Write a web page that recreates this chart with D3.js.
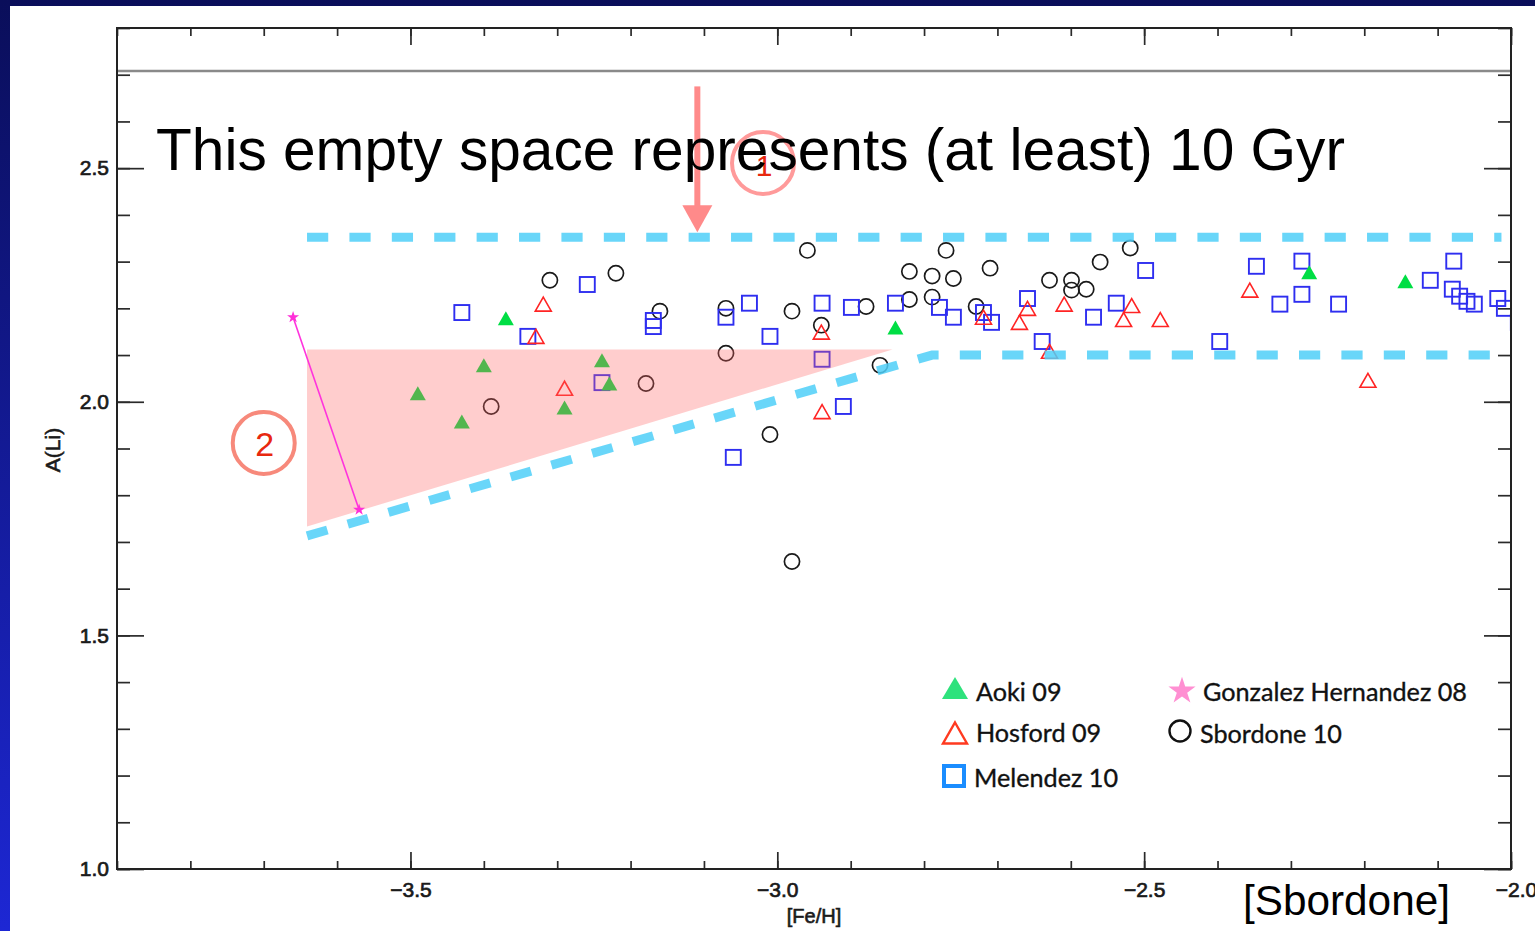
<!DOCTYPE html>
<html><head><meta charset="utf-8">
<script src="https://cdn.jsdelivr.net/npm/d3@7"></script>
<style>html,body{margin:0;padding:0;overflow:hidden;background:#fff}</style>
</head><body>
<svg id="chart" width="1535" height="931"></svg>
<script>
// ---------- data ([Fe/H], A(Li)) ----------
const aoki09 = [[-3.490,2.018],[-3.430,1.958],[-3.400,2.078],[-3.370,2.179],[-3.290,1.988],
  [-3.239,2.089],[-3.229,2.039],[-2.839,2.159],[-2.275,2.277],[-2.144,2.258]];
const hosford09 = [[-3.319,2.209],[-3.329,2.140],[-3.290,2.029],[-2.940,2.149],[-2.939,1.979],
  [-2.719,2.181],[-2.659,2.200],[-2.670,2.170],[-2.609,2.209],[-2.629,2.108],[-2.517,2.206],
  [-2.528,2.176],[-2.478,2.176],[-2.356,2.239],[-2.195,2.046]];
const melendez10 = [[-3.430,2.191],[-3.340,2.140],[-3.259,2.251],[-3.239,2.041],[-3.169,2.174],
  [-3.169,2.161],[-3.070,2.181],[-3.038,2.211],[-3.010,2.140],[-3.060,1.881],[-2.939,2.211],
  [-2.939,2.091],[-2.910,1.990],[-2.899,2.202],[-2.839,2.211],[-2.779,2.202],[-2.760,2.181],
  [-2.719,2.191],[-2.708,2.170],[-2.659,2.221],[-2.639,2.129],[-2.569,2.181],[-2.538,2.211],
  [-2.498,2.281],[-2.397,2.129],[-2.347,2.290],[-2.315,2.209],[-2.285,2.301],[-2.285,2.230],
  [-2.235,2.209],[-2.110,2.260],[-2.078,2.301],[-2.080,2.241],[-2.070,2.226],[-2.060,2.215],
  [-2.050,2.209],[-2.018,2.221],[-2.009,2.200],[-1.990,2.170]];
const sbordone10 = [[-3.390,1.990],[-3.310,2.260],[-3.220,2.275],[-3.160,2.194],[-3.179,2.039],
  [-3.070,2.200],[-3.070,2.104],[-3.010,1.930],[-2.980,2.194],[-2.980,1.658],[-2.959,2.324],
  [-2.940,2.164],[-2.879,2.204],[-2.860,2.078],[-2.820,2.279],[-2.820,2.219],[-2.789,2.269],
  [-2.789,2.224],[-2.770,2.324],[-2.760,2.264],[-2.729,2.204],[-2.710,2.286],[-2.629,2.260],
  [-2.599,2.260],[-2.599,2.239],[-2.579,2.241],[-2.560,2.299],[-2.519,2.329]];
const gonzalez08 = [[-3.660,2.181],[-3.570,1.769]];

// annotation geometry (data units)
const bbnLevel = 2.708;
const upperBand = [[-3.641,2.352],[-2.013,2.352]];
const lowerBand = [[-3.641,1.713],[-2.789,2.100],[-2.018,2.100]];
const depletionWedge = [[-3.641,2.112],[-3.641,1.733],[-2.843,2.112]];
const arrowFrom = [-3.109,2.675], arrowTo = [-3.109,2.363];
const circleOne = [-3.0195,2.511], circleTwo = [-3.700,1.912];

// axes
const xMajor = [-3.5,-3.0,-2.5,-2.0];
const yMajor = [1.0,1.5,2.0,2.5];
const xMinor = d3.range(-39,-19).map(d=>d/10);
const yMinor = d3.range(10,29).map(d=>d/10);

const legendItems = [
  {label:"Aoki 09", kind:"aoki", x:955, y:688, tx:976, ty:701},
  {label:"Hosford 09", kind:"hosford", x:955, y:733, tx:976, ty:742},
  {label:"Melendez 10", kind:"melendez", x:954, y:776, tx:974, ty:787},
  {label:"Gonzalez Hernandez 08", kind:"gonzalez", x:1182, y:691, tx:1203, ty:701},
  {label:"Sbordone 10", kind:"sbordone", x:1180, y:731, tx:1200, ty:743}
];

// ---------- drawing ----------
const svg = d3.select("#chart");
const W = 1535, H = 931;
const L = 117, R = 1511, T = 28, B = 869;
const x = d3.scaleLinear().domain([-3.9,-2.0]).range([L,R]);
const y = d3.scaleLinear().domain([1.0,2.8]).range([B,T]);
const SANS = "'Liberation Sans', Arial, Helvetica, sans-serif";

const defs = svg.append("defs");
const grad = defs.append("linearGradient").attr("id","bg").attr("x1",0).attr("y1",0).attr("x2",0).attr("y2",1);
grad.append("stop").attr("offset","0%").attr("stop-color","#0a0e5a");
grad.append("stop").attr("offset","100%").attr("stop-color","#1d27d4");
defs.append("clipPath").attr("id","plot").append("rect").attr("x",L).attr("y",T).attr("width",R-L).attr("height",B-T);

svg.append("rect").attr("width",W).attr("height",H).attr("fill","url(#bg)");
svg.append("rect").attr("x",10).attr("y",6).attr("width",W-10).attr("height",H-6).attr("fill","#fff");

const triPath = (w,h)=>`M0,${-h/2}L${w/2},${h/2}L${-w/2},${h/2}Z`;

const marks = svg.append("g").attr("clip-path","url(#plot)");
marks.selectAll("circle.sb").data(sbordone10).join("circle").attr("class","sb")
  .attr("cx",d=>x(d[0])).attr("cy",d=>y(d[1])).attr("r",7.6)
  .attr("fill","none").attr("stroke","#1a1a1a").attr("stroke-width",1.7);
marks.selectAll("rect.me").data(melendez10).join("rect").attr("class","me")
  .attr("x",d=>x(d[0])-7.5).attr("y",d=>y(d[1])-7.5).attr("width",15).attr("height",15)
  .attr("fill","none").attr("stroke","#2e2ef0").attr("stroke-width",1.9);
marks.selectAll("path.ho").data(hosford09).join("path").attr("class","ho")
  .attr("d",triPath(16,14)).attr("transform",d=>`translate(${x(d[0])},${y(d[1])})`)
  .attr("fill","none").attr("stroke","#ff2424").attr("stroke-width",1.6);
marks.selectAll("path.ao").data(aoki09).join("path").attr("class","ao")
  .attr("d",triPath(16,14)).attr("transform",d=>`translate(${x(d[0])},${y(d[1])})`)
  .attr("fill","#00de44");

// overlays
const ov = svg.append("g").attr("clip-path","url(#plot)");
ov.append("path").attr("d", d3.line().x(d=>x(d[0])).y(d=>y(d[1]))(depletionWedge)+"Z")
  .attr("fill","#ff6464").attr("fill-opacity",0.32);
const bandLine = d3.line().x(d=>x(d[0])).y(d=>y(d[1]));
[upperBand, lowerBand].forEach(b=>{
  ov.append("path").attr("d",bandLine(b)).attr("fill","none")
    .attr("stroke","#4fcff8").attr("stroke-opacity",0.85).attr("stroke-width",9)
    .attr("stroke-dasharray","21.2,21.2").attr("stroke-linejoin","miter");
});
ov.append("line").attr("x1",x(gonzalez08[0][0])).attr("y1",y(gonzalez08[0][1]))
  .attr("x2",x(gonzalez08[1][0])).attr("y2",y(gonzalez08[1][1]))
  .attr("stroke","#ff33dd").attr("stroke-width",1.6);
ov.selectAll("path.gh").data(gonzalez08).join("path").attr("class","gh")
  .attr("d",d3.symbol(d3.symbolStar,45)()).attr("transform",d=>`translate(${x(d[0])},${y(d[1])})`)
  .attr("fill","#ff2fd8");
ov.append("line").attr("x1",L).attr("x2",R).attr("y1",y(bbnLevel)).attr("y2",y(bbnLevel))
  .attr("stroke","#8a8a8a").attr("stroke-width",2.6);

// axes & ticks
function styleAxis(g){ g.select(".domain").remove(); g.selectAll("line").attr("stroke","#2a2a2a").attr("stroke-width",1.7); }
svg.append("g").attr("transform",`translate(${L},0)`)
  .call(d3.axisLeft(y).tickValues(yMinor).tickSize(-13).tickFormat("")).call(styleAxis);
const yl = svg.append("g").attr("transform",`translate(${L},0)`)
  .call(d3.axisLeft(y).tickValues(yMajor).tickSize(-27).tickPadding(8).tickFormat(d3.format(".1f"))).call(styleAxis);
svg.append("g").attr("transform",`translate(${R},0)`)
  .call(d3.axisRight(y).tickValues(yMinor).tickSize(-13).tickFormat("")).call(styleAxis);
svg.append("g").attr("transform",`translate(${R},0)`)
  .call(d3.axisRight(y).tickValues(yMajor).tickSize(-27).tickFormat("")).call(styleAxis);
svg.append("g").attr("transform",`translate(0,${B})`)
  .call(d3.axisBottom(x).tickValues(xMinor).tickSize(-8).tickFormat("")).call(styleAxis);
const xl = svg.append("g").attr("transform",`translate(0,${B})`)
  .call(d3.axisBottom(x).tickValues(xMajor).tickSize(-17).tickPadding(13).tickFormat(d3.format(".1f"))).call(styleAxis);
svg.append("g").attr("transform",`translate(0,${T})`)
  .call(d3.axisTop(x).tickValues(xMinor).tickSize(-8).tickFormat("")).call(styleAxis);
svg.append("g").attr("transform",`translate(0,${T})`)
  .call(d3.axisTop(x).tickValues(xMajor).tickSize(-17).tickFormat("")).call(styleAxis);
[yl,xl].forEach(g=>g.selectAll("text").attr("font-family",SANS).attr("font-size",21)
  .attr("fill","#1a1a1a").attr("stroke","#1a1a1a").attr("stroke-width",0.7));
xl.selectAll("text").filter(d=>d===-2.0).attr("dx",5);

svg.append("rect").attr("x",L).attr("y",T).attr("width",R-L).attr("height",B-T)
  .attr("fill","none").attr("stroke","#222").attr("stroke-width",2);

svg.append("text").attr("x",814).attr("y",923).attr("text-anchor","middle")
  .attr("font-family",SANS).attr("font-size",20).attr("fill","#1a1a1a")
  .attr("stroke","#1a1a1a").attr("stroke-width",0.6).text("[Fe/H]");
svg.append("text").attr("transform","translate(60,450) rotate(-90)").attr("text-anchor","middle")
  .attr("font-family",SANS).attr("font-size",21).attr("fill","#1a1a1a")
  .attr("stroke","#1a1a1a").attr("stroke-width",0.6).text("A(Li)");

// annotations
const arrowCol = "#ff8a8a";
svg.append("line").attr("x1",x(arrowFrom[0])).attr("x2",x(arrowTo[0]))
  .attr("y1",y(arrowFrom[1])).attr("y2",y(arrowTo[1])-24)
  .attr("stroke",arrowCol).attr("stroke-width",6);
svg.append("path").attr("transform",`translate(${x(arrowTo[0])},${y(arrowTo[1])})`)
  .attr("d","M0,0L-15,-27L15,-27Z").attr("fill",arrowCol);

svg.append("circle").attr("cx",x(circleOne[0])).attr("cy",y(circleOne[1])).attr("r",31)
  .attr("fill","none").attr("stroke","#ff9a9a").attr("stroke-width",4);
svg.append("text").attr("x",x(circleOne[0])+1).attr("y",y(circleOne[1])+13).attr("text-anchor","middle")
  .attr("font-family",SANS).attr("font-size",30).attr("fill","#e8280f").text("1");
svg.append("circle").attr("cx",x(circleTwo[0])).attr("cy",y(circleTwo[1])).attr("r",31)
  .attr("fill","none").attr("stroke","#f7897b").attr("stroke-width",4);
svg.append("text").attr("x",x(circleTwo[0])+1).attr("y",y(circleTwo[1])+13).attr("text-anchor","middle")
  .attr("font-family",SANS).attr("font-size",34).attr("fill","#e8280f").text("2");

function fit(sel, width){
  const w = sel.node().getComputedTextLength();
  sel.attr("font-size", parseFloat(sel.attr("font-size"))*width/w);
}
const big = svg.append("text").attr("x",156).attr("y",170).attr("font-family",SANS)
  .attr("font-size",58).attr("fill","#000").text("This empty space represents (at least) 10 Gyr");
fit(big, 1189);
const src = svg.append("text").attr("x",1243).attr("y",915).attr("font-family",SANS)
  .attr("font-size",42).attr("fill","#000").text("[Sbordone]");
fit(src, 207);

// legend
const LEG = "Lato, 'Open Sans', sans-serif";
const lg = svg.append("g");
legendItems.forEach(it=>{
  const g = lg.append("g").attr("transform",`translate(${it.x},${it.y})`);
  if(it.kind==="aoki") g.append("path").attr("d",triPath(26,22)).attr("fill","#2ee27c");
  if(it.kind==="hosford") g.append("path").attr("d",triPath(24,21)).attr("fill","none").attr("stroke","#ff3a20").attr("stroke-width",2.4);
  if(it.kind==="melendez") g.append("rect").attr("x",-10).attr("y",-10).attr("width",20).attr("height",20).attr("fill","none").attr("stroke","#1a8dff").attr("stroke-width",4);
  if(it.kind==="gonzalez") g.append("path").attr("d",d3.symbol(d3.symbolStar,230)()).attr("fill","#ff8fd2");
  if(it.kind==="sbordone") g.append("circle").attr("r",10.5).attr("fill","none").attr("stroke","#111").attr("stroke-width",2.4);
  it.node = lg.append("text").attr("x",it.tx).attr("y",it.ty).attr("font-family",LEG)
    .attr("font-size",22).attr("fill","#111").attr("stroke","#111").attr("stroke-width",0.35).text(it.label);
});
const gon = legendItems[3].node;
const lw = gon.node().getComputedTextLength();
const lfs = 22*264/lw;
legendItems.forEach(it=>it.node.attr("font-size",lfs));
</script>
</body></html>
